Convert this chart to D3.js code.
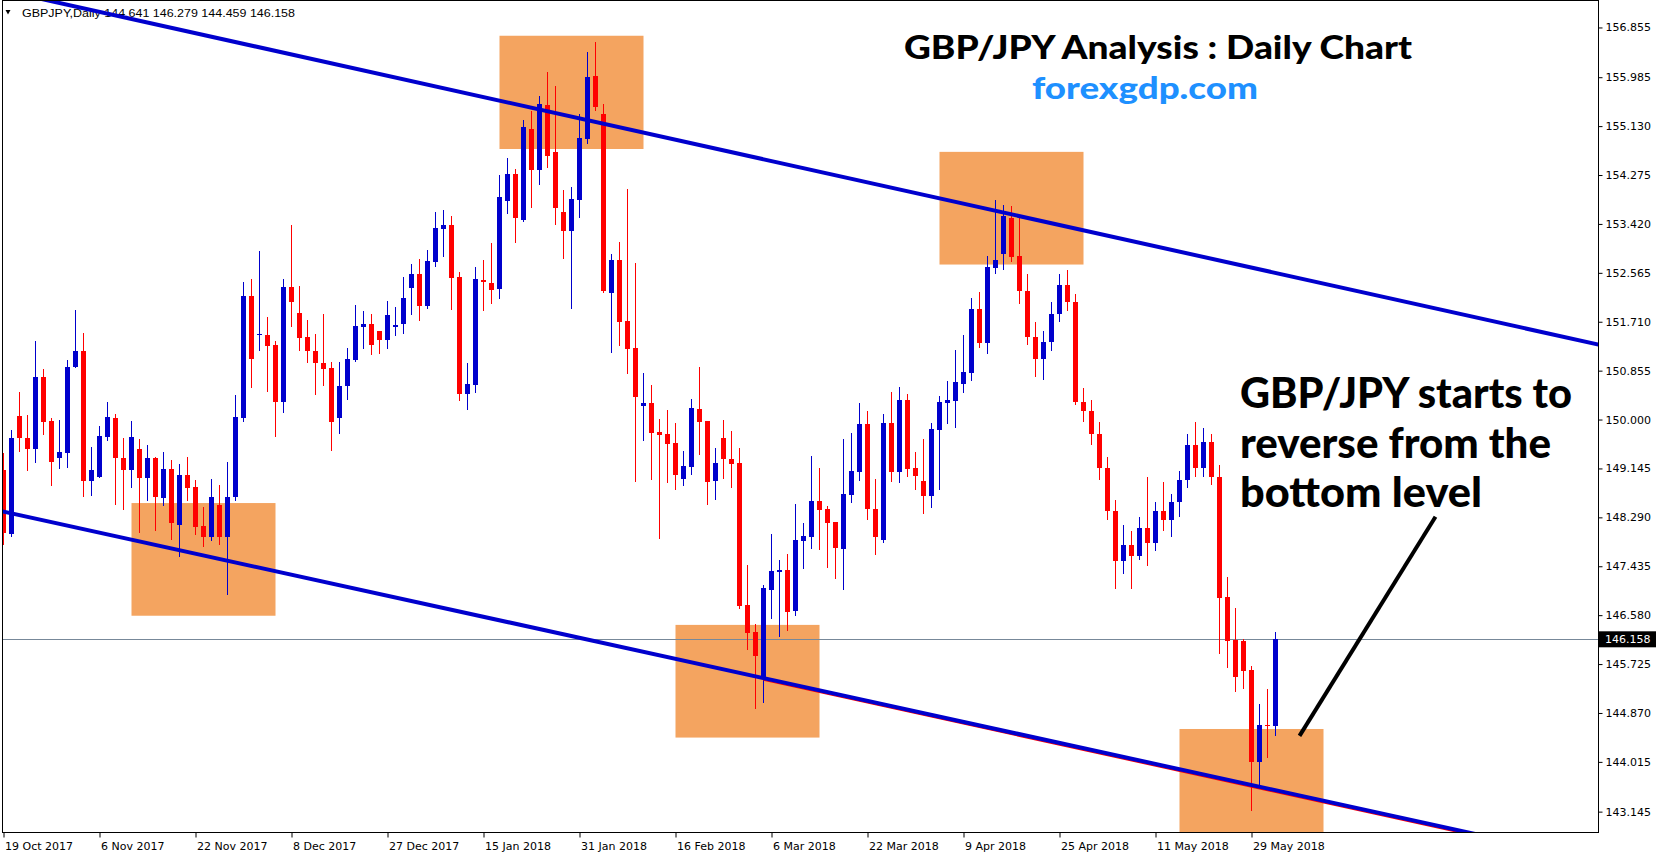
<!DOCTYPE html>
<html><head><meta charset="utf-8">
<script src="https://cdn.jsdelivr.net/npm/d3@7"></script>
<style>body{margin:0;background:#fff;overflow:hidden}svg{display:block}</style>
</head><body>
<svg id="c" width="1656" height="854"></svg>
<script>
// ---------- DATA ----------
const symbolHeader = "GBPJPY,Daily  144.641 146.279 144.459 146.158";
const dateLabels = ["19 Oct 2017","6 Nov 2017","22 Nov 2017","8 Dec 2017","27 Dec 2017","15 Jan 2018","31 Jan 2018","16 Feb 2018","6 Mar 2018","22 Mar 2018","9 Apr 2018","25 Apr 2018","11 May 2018","29 May 2018"];
const dateLabelBars = [0,12,24,36,48,60,72,84,96,108,120,132,144,156];
const priceTicks = [156.855,155.985,155.130,154.275,153.420,152.565,151.710,150.855,150.000,149.145,148.290,147.435,146.580,145.725,144.870,144.015,143.145];
const lastPrice = 146.158;

const opens = [
149.12,148.00,150.06,149.68,149.49,150.74,149.98,149.33,149.42,150.92,
151.20,148.93,149.00,149.70,150.03,149.33,149.11,149.49,148.97,149.33,
148.62,149.14,148.16,149.03,148.82,148.14,147.94,148.51,147.94,148.64,
150.03,152.16,151.47,151.48,151.30,150.31,152.32,151.86,151.44,151.20,
150.99,150.90,150.03,150.58,151.04,151.62,151.67,151.55,151.39,151.61,
151.67,152.30,152.54,151.99,152.75,153.33,153.40,152.49,150.45,150.61,
152.44,152.39,152.28,153.82,154.29,153.48,155.08,154.36,155.50,154.68,
153.63,153.30,153.84,154.91,156.01,155.34,152.22,152.79,151.72,151.25,
150.24,150.29,149.78,149.75,149.59,148.96,149.17,150.18,149.97,148.93,
149.68,149.31,149.24,146.76,146.28,145.49,147.02,147.34,147.37,146.65,
147.88,147.95,148.58,148.44,148.21,147.74,148.68,149.08,149.92,148.44,
147.89,149.94,149.08,150.34,149.15,148.93,148.66,149.82,150.29,150.33,
150.62,150.81,151.93,151.34,152.65,152.89,153.52,152.86,152.25,151.45,
151.05,151.35,151.85,152.35,152.05,150.30,150.15,149.75,149.15,148.40,
147.52,147.80,147.62,148.10,147.85,148.40,148.25,148.55,148.95,149.55,
149.15,149.60,149.00,146.90,146.15,146.13,145.62,144.02,144.66,144.641];
const highs = [
149.41,149.82,150.48,150.08,151.37,150.88,150.03,150.00,151.04,151.92,
151.51,149.52,149.89,150.31,150.10,149.68,149.98,149.66,149.56,149.35,
149.43,149.29,149.22,149.35,148.94,148.47,148.96,148.86,149.26,150.43,
152.40,152.45,152.94,151.80,151.37,152.46,153.40,152.33,151.74,151.49,
151.85,151.01,151.01,151.25,152.00,151.90,151.85,151.55,152.07,151.97,
152.49,152.72,152.81,152.96,153.63,153.66,153.56,152.58,150.99,152.67,
152.79,153.09,154.28,154.57,154.38,155.24,155.39,155.66,156.08,155.83,
154.01,154.07,155.34,156.43,156.60,155.52,152.89,153.10,154.03,152.74,
150.81,150.60,150.01,150.17,149.94,149.45,150.36,150.92,149.97,149.50,
149.99,149.80,149.50,147.46,146.43,147.11,148.00,147.54,147.65,148.52,
148.19,149.36,149.15,148.49,148.21,149.66,149.76,150.29,150.15,148.96,
150.10,150.48,150.57,150.45,149.43,149.66,149.94,150.41,150.67,151.22,
151.48,152.13,152.23,152.86,153.84,153.75,153.73,153.54,152.55,151.70,
151.55,152.05,152.55,152.62,152.20,150.55,150.35,149.95,149.35,148.60,
148.15,148.05,148.30,149.00,148.55,148.90,148.70,149.10,149.75,149.95,
149.85,149.75,149.20,147.25,146.71,146.16,145.69,145.03,145.29,146.279];
const lows = [
147.81,147.95,149.43,149.10,149.24,149.73,148.84,149.14,149.16,150.90,
148.64,148.67,148.98,149.63,148.51,148.41,148.81,148.02,148.58,148.06,
148.48,147.90,147.60,148.58,147.99,147.78,147.87,147.81,146.94,148.58,
149.95,150.56,151.20,150.49,149.70,150.12,151.61,151.20,150.99,150.43,
150.59,149.45,149.75,150.35,151.01,151.23,151.13,151.15,151.23,151.46,
151.49,151.83,151.72,151.93,152.67,152.84,151.92,150.33,150.17,150.47,
151.90,152.02,152.11,153.59,153.09,153.46,153.70,154.10,154.40,153.40,
152.80,151.94,153.53,154.81,155.40,152.22,151.17,151.29,150.79,148.90,
149.63,148.94,147.91,148.89,148.76,148.84,149.03,149.38,148.51,148.59,
148.96,148.80,146.69,145.97,144.94,145.04,146.51,146.20,146.30,146.56,
147.39,147.74,147.72,147.40,147.21,147.02,148.54,148.93,148.24,147.63,
147.84,148.91,148.89,148.99,148.77,148.35,148.45,148.77,149.92,149.85,
150.46,150.67,151.25,151.15,152.54,152.61,152.75,152.02,151.30,150.75,
150.70,151.20,151.70,151.90,150.25,149.95,149.55,148.95,148.25,147.03,
147.30,147.03,147.55,147.44,147.70,148.05,147.95,148.30,148.80,149.00,
149.00,148.85,145.90,145.66,145.24,145.29,143.16,143.61,144.09,144.459];
const closes = [
148.02,149.68,149.67,149.49,150.74,149.95,149.25,149.43,150.92,151.20,
148.93,149.12,149.71,150.05,149.32,149.11,149.70,148.97,149.33,148.64,
149.14,148.20,149.03,148.81,148.13,147.95,148.65,147.94,148.65,150.05,
152.16,151.06,151.50,151.29,150.30,152.32,152.06,151.43,151.19,150.98,
150.89,149.96,150.59,151.06,151.64,151.67,151.31,151.39,151.83,151.65,
152.13,152.54,151.99,152.77,153.35,153.40,152.47,150.45,150.62,152.46,
152.40,152.26,153.89,154.29,153.53,155.12,154.36,155.52,154.61,153.69,
153.30,153.86,154.92,155.99,155.47,152.24,152.79,151.71,151.24,150.40,
150.29,149.77,149.73,149.58,149.03,149.19,150.20,149.96,148.91,149.24,
149.31,149.22,146.74,146.27,145.87,147.05,147.35,147.37,146.64,147.89,
147.96,148.58,148.42,148.19,147.75,148.70,149.10,149.92,148.44,147.95,
149.94,149.08,150.34,149.14,149.01,148.66,149.83,150.31,150.34,150.66,
150.83,151.93,151.34,152.67,152.79,153.56,152.84,152.25,151.45,151.05,
151.35,151.85,152.35,152.05,150.30,150.15,149.75,149.15,148.40,147.52,
147.80,147.62,148.10,147.85,148.40,148.25,148.55,148.95,149.55,149.15,
149.60,149.00,146.88,146.13,145.50,145.61,144.02,144.66,144.64,146.158];

// zones (bar index from/to, price top/bottom)
const zoneFrom   = [16, 62, 117, 84, 147];
const zoneTo     = [34, 80, 135, 102, 165];
const zoneTop    = [148.54, 156.71, 154.68, 146.41, 144.59];
const zoneBottom = [146.57, 154.73, 152.71, 144.44, 142.62];
// channel lines [bar, price] endpoints
const upperLine = [[0, 157.50], [200, 151.29]];
const lowerLine = [[-1, 148.42], [200, 142.263]];
const arrowLine = [[162, 144.47], [179, 148.30]];
const titleText = "GBP/JPY Analysis : Daily Chart";
const siteText = "forexgdp.com";
const noteLines = ["GBP/JPY starts to", "reverse from the", "bottom level"];

// ---------- CHART ----------
const plotL = 2, plotR = 1598, plotT = 0, plotB = 832;
const svg = d3.select("#c");
const x = d3.scaleLinear().domain([0, 159]).range([3.5, 3.5 + 8 * 159]);
const y = d3.scaleLinear().domain([142.789, 157.335]).range([plotB, plotT]);

svg.append("defs").append("clipPath").attr("id", "clip")
  .append("rect").attr("x", plotL + 1).attr("y", plotT + 1)
  .attr("width", plotR - plotL - 1).attr("height", plotB - plotT - 1);

const g = svg.append("g").attr("clip-path", "url(#clip)");

// zones
g.selectAll("rect.zone").data(zoneFrom).join("rect").attr("class", "zone")
  .attr("x", (d, i) => x(zoneFrom[i]))
  .attr("width", (d, i) => x(zoneTo[i]) - x(zoneFrom[i]))
  .attr("y", (d, i) => y(zoneTop[i]))
  .attr("height", (d, i) => y(zoneBottom[i]) - y(zoneTop[i]))
  .attr("fill", "#f4a460");

// header
g.append("path").attr("d", "M5.5,10 L10.5,10 L8,14.5 Z").attr("fill", "#000");
g.append("text").attr("x", 22).attr("y", 17).text(symbolHeader)
  .attr("font-family", "'Liberation Sans', Arial, sans-serif").attr("font-size", 11.5)
  .attr("textLength", 273).attr("lengthAdjust", "spacingAndGlyphs").attr("fill", "#000");

// last price line
g.append("line").attr("x1", plotL).attr("x2", plotR)
  .attr("y1", Math.round(y(lastPrice)) + 0.5).attr("y2", Math.round(y(lastPrice)) + 0.5)
  .attr("stroke", "#778899").attr("stroke-width", 1);

// candles
const idx = d3.range(opens.length);
const colorOf = i => closes[i] >= opens[i] ? "#0000cc" : "#ff0000";
const cg = g.append("g").attr("shape-rendering", "crispEdges");
cg.selectAll("rect.wick").data(idx).join("rect").attr("class", "wick")
  .attr("x", i => x(i) - 0.5).attr("width", 1)
  .attr("y", i => y(highs[i])).attr("height", i => Math.max(1, y(lows[i]) - y(highs[i])))
  .attr("fill", colorOf);
cg.selectAll("rect.body").data(idx).join("rect").attr("class", "body")
  .attr("x", i => x(i) - 2.5).attr("width", 5)
  .attr("y", i => y(Math.max(opens[i], closes[i])))
  .attr("height", i => Math.max(1.5, Math.abs(y(opens[i]) - y(closes[i]))))
  .attr("fill", colorOf);

// channel lines
const ln = d3.line().x(d => x(d[0])).y(d => y(d[1]));
g.append("path").attr("d", ln(lowerLine.map(d => [d[0] < 95 ? 95 : d[0], d[1] - (d[0] < 95 ? (95 - d[0]) * 0.03063 : 0) - 0.035])))
  .attr("stroke", "#ff0000").attr("stroke-width", 1.5).attr("fill", "none");
g.append("path").attr("d", ln(upperLine)).attr("stroke", "#0000cd").attr("stroke-width", 4).attr("fill", "none");
g.append("path").attr("d", ln(lowerLine)).attr("stroke", "#0000cd").attr("stroke-width", 4).attr("fill", "none");
g.append("path").attr("d", ln(arrowLine)).attr("stroke", "#000").attr("stroke-width", 4).attr("fill", "none");

// texts
g.append("text").attr("x", 904).attr("y", 59).text(titleText)
  .attr("font-family", "Lato, 'Open Sans', sans-serif").attr("font-weight", 900).attr("font-size", 33)
  .attr("textLength", 508).attr("lengthAdjust", "spacingAndGlyphs").attr("fill", "#000");
g.append("text").attr("x", 1032).attr("y", 99).text(siteText)
  .attr("font-family", "Lato, 'Open Sans', sans-serif").attr("font-weight", 900).attr("font-size", 31)
  .attr("textLength", 226).attr("lengthAdjust", "spacingAndGlyphs").attr("fill", "#1e90ff");
const noteW = [332, 311, 242];
g.selectAll("text.note").data(noteLines).join("text").attr("class", "note")
  .attr("x", 1240).attr("y", (d, i) => 408 + i * 49.5).text(d => d)
  .attr("font-family", "Lato, 'Open Sans', sans-serif").attr("font-weight", 900).attr("font-size", 42)
  .attr("textLength", (d, i) => noteW[i]).attr("lengthAdjust", "spacingAndGlyphs").attr("fill", "#000");

// frame
svg.append("rect").attr("x", plotL + 0.5).attr("y", plotT + 0.5)
  .attr("width", plotR - plotL).attr("height", plotB - plotT)
  .attr("fill", "none").attr("stroke", "#000").attr("stroke-width", 1).attr("shape-rendering", "crispEdges");

// y axis (right)
const yAxis = d3.axisRight(y).tickValues(priceTicks).tickSize(4).tickSizeOuter(0).tickFormat(d3.format(".3f"));
const ya = svg.append("g").attr("transform", `translate(${plotR + 0.5},0)`).call(yAxis);
ya.select(".domain").remove();
ya.selectAll("text").attr("font-family", "'DejaVu Sans', Verdana, sans-serif").attr("font-size", 11).attr("fill", "#000").attr("x", 7);
ya.selectAll("line").attr("stroke", "#000");

// last price tag
svg.append("rect").attr("x", plotR + 1).attr("y", y(lastPrice) - 8).attr("width", 58).attr("height", 16).attr("fill", "#000");
svg.append("text").attr("x", plotR + 7).attr("y", y(lastPrice)).attr("dy", "0.35em").text(lastPrice.toFixed(3))
  .attr("font-family", "'DejaVu Sans', Verdana, sans-serif").attr("font-size", 11).attr("fill", "#fff");

// x axis (bottom)
const xAxis = d3.axisBottom(x).tickValues(dateLabelBars).tickSize(5).tickSizeOuter(0)
  .tickFormat((d, i) => dateLabels[i]);
const xa = svg.append("g").attr("transform", `translate(0,${plotB + 0.5})`).call(xAxis);
xa.select(".domain").remove();
xa.selectAll("line").attr("stroke", "#000");
xa.selectAll("text").attr("font-family", "'DejaVu Sans', Verdana, sans-serif").attr("font-size", 11)
  .attr("fill", "#000").attr("text-anchor", "start").attr("x", 1).attr("y", 10);
</script>
</body></html>
